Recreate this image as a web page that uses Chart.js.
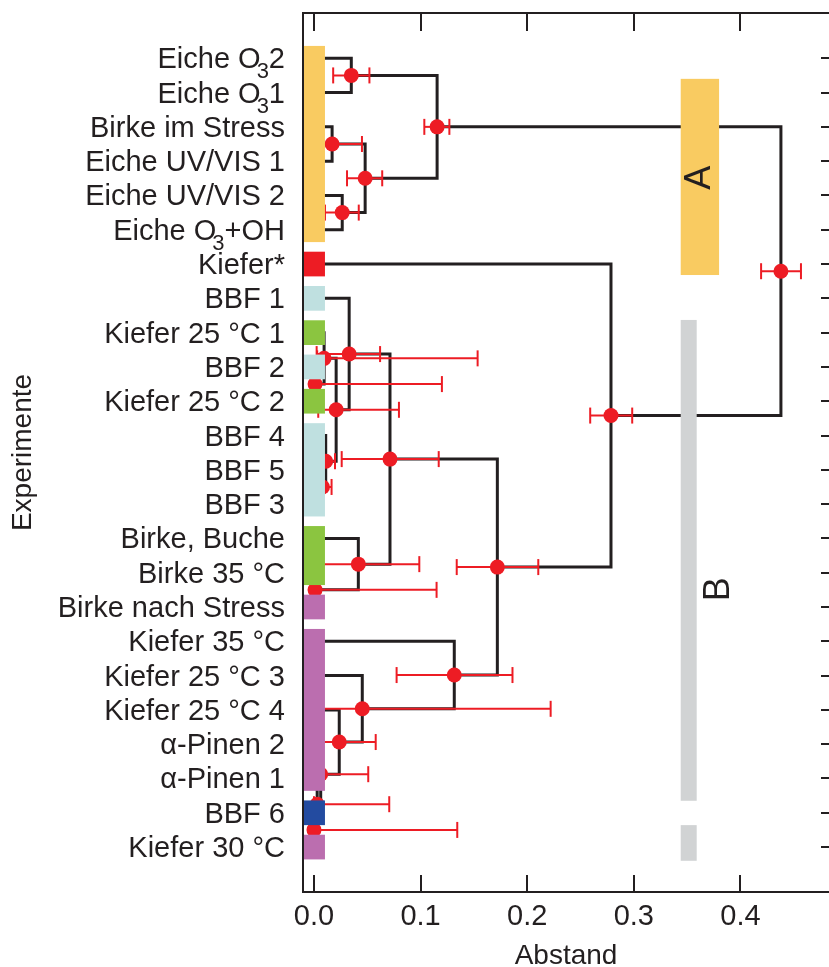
<!DOCTYPE html>
<html lang="de">
<head>
<meta charset="utf-8">
<title>Clusteranalyse der Experimente</title>
<script src="https://cdn.jsdelivr.net/npm/chart.js@4.4.1/dist/chart.umd.min.js"></script>
<style>
  html, body { margin: 0; padding: 0; background: #fff; overflow: hidden; }
  #chart { display: block; width: 829px; height: 967px; }
</style>
</head>
<body>
<canvas id="chart" width="829" height="967"></canvas>
<script>
// Experiments, top to bottom (row index = y value)
const rowLabels = [
  'Eiche O₃2', 'Eiche O₃1', 'Birke im Stress', 'Eiche UV/VIS 1', 'Eiche UV/VIS 2',
  'Eiche O₃+OH', 'Kiefer*', 'BBF 1', 'Kiefer 25 °C 1', 'BBF 2', 'Kiefer 25 °C 2',
  'BBF 4', 'BBF 5', 'BBF 3', 'Birke, Buche', 'Birke 35 °C', 'Birke nach Stress',
  'Kiefer 35 °C', 'Kiefer 25 °C 3', 'Kiefer 25 °C 4', 'α-Pinen 2', 'α-Pinen 1',
  'BBF 6', 'Kiefer 30 °C'
];

// Coloured blocks next to the labels: first row, last row, class
const blockFirst = [0, 6, 7, 8, 9, 10, 11, 14, 16, 17, 22, 23];
const blockLast  = [5, 6, 7, 8, 9, 10, 13, 15, 16, 21, 22, 23];
const blockClass = ['eiche', 'kieferStern', 'bbf', 'gruen', 'bbf', 'gruen', 'bbf', 'gruen', 'lila', 'lila', 'bbf6', 'lila'];

// Dendrogram: merge distance of each node, its two children (L = row, N = node) and error range
const nodeHeight  = [0.035, 0.017, 0.0265, 0.048, 0.1155, 0.001, 0.0095, 0.008, 0.011, 0.0208, 0.033, 0.001,
                     0.0416, 0.0713, 0.0, 0.003, 0.0063, 0.0237, 0.0453, 0.1316, 0.172, 0.2786, 0.438];
const nodeLeft    = ['L0', 'L2', 'L4', 'N1', 'N0', 'L9', 'L8', 'L12', 'L11', 'N6', 'L7', 'L15',
                     'L14', 'N10', 'L22', 'L21', 'L20', 'L19', 'L18', 'L17', 'N13', 'L6', 'N4'];
const nodeRight   = ['L1', 'L3', 'L5', 'N2', 'N3', 'L10', 'N5', 'L13', 'N7', 'N8', 'N9', 'L16',
                     'N11', 'N12', 'L23', 'N14', 'N15', 'N16', 'N17', 'N18', 'N19', 'N20', 'N21'];
const nodeErrLow  = [0.018, 0.005, 0.0103, 0.031, 0.1035, -0.003, 0.003, 0.003, 0.005, 0.004, 0.0025, -0.003,
                     0.005, 0.026, -0.004, 0.0, 0.002, 0.004, 0.004, 0.0775, 0.1339, 0.2591, 0.4194];
const nodeErrHigh = [0.052, 0.045, 0.042, 0.064, 0.127, 0.120, 0.1535, 0.0165, 0.0197, 0.0797, 0.062, 0.115,
                     0.0988, 0.117, 0.1344, 0.0706, 0.0509, 0.0579, 0.222, 0.1862, 0.2104, 0.2985, 0.4568];

// Cluster bands A and B on the right
const bandFrom  = [0.60, 7.63, 22.36];
const bandTo    = [6.32, 21.65, 23.40];
const bandLeft  = [0.344, 0.344, 0.344];
const bandRight = [0.380, 0.359, 0.359];
const bandClass = ['eiche', 'grau', 'grau'];
const bandNames    = ['A', 'B'];
const bandNameX    = [0.362, 0.380];
const bandNameRow  = [3.48, 15.48];

const xTicks = [0, 0.1, 0.2, 0.3, 0.4];

// ---- styles ----
const INK = '#231F20';
const RED = '#ED1C24';
const FAMILY = '"Liberation Sans", Arial, sans-serif';
const classColors = {
  eiche: '#F9CB61', kieferStern: '#ED1C24', bbf: '#BFE0E0', gruen: '#8BC540',
  lila: '#BB6EAF', bbf6: '#234BA0', grau: '#D1D3D4'
};
// the right border of the box lies just past the canvas edge
const X_MIN = -0.0103, X_MAX = 0.4831;
const Y_MIN = -1.32, Y_MAX = 24.31;
const BLOCK_RIGHT = 0.0103;
const BLOCK_HALF = 0.36;
const LABEL_GAP = 18;
const SUB = '₃';

Chart.defaults.font.family = FAMILY;
Chart.defaults.font.size = 29;
Chart.defaults.color = INK;

// Build link paths bottom-up; a node sits halfway between its children
const nodeY = [];
const links = [];
function childPos(ref) {
  const idx = +ref.slice(1);
  return ref[0] === 'L' ? { x: 0, y: idx } : { x: nodeHeight[idx], y: nodeY[idx] };
}
nodeHeight.forEach((h, i) => {
  const a = childPos(nodeLeft[i]);
  const b = childPos(nodeRight[i]);
  nodeY[i] = (a.y + b.y) / 2;
  links.push([{ x: a.x, y: a.y }, { x: h, y: a.y }, { x: h, y: b.y }, { x: b.x, y: b.y }]);
});

const datasets = [];
datasets.push({
  label: 'Knoten',
  data: nodeHeight.map((h, i) => ({ x: h, y: nodeY[i] })),
  pointRadius: 7.5,
  pointBackgroundColor: RED,
  pointBorderWidth: 0,
  order: 0
});
nodeHeight.forEach((h, i) => {
  datasets.push({
    label: 'Fehler ' + i,
    data: [{ x: nodeErrLow[i], y: nodeY[i] }, { x: nodeErrHigh[i], y: nodeY[i] }],
    showLine: true,
    borderColor: RED,
    borderWidth: 2,
    pointStyle: 'line',
    pointRotation: 90,
    pointRadius: 8,
    pointBorderColor: RED,
    pointBorderWidth: 2,
    order: 1
  });
});
links.forEach((pts, i) => {
  datasets.push({
    label: 'Ast ' + i,
    data: pts,
    showLine: true,
    borderColor: INK,
    borderWidth: 3,
    borderJoinStyle: 'miter',
    pointRadius: 0,
    order: 2
  });
});

// Colour blocks, cluster bands and their names, painted over the tree
const blockPlugin = {
  id: 'blocks',
  afterDatasetsDraw(chart) {
    const { ctx, scales: { x, y } } = chart;
    ctx.save();
    blockFirst.forEach((first, i) => {
      const top = y.getPixelForValue(first - BLOCK_HALF);
      const bottom = y.getPixelForValue(blockLast[i] + BLOCK_HALF);
      const left = x.getPixelForValue(X_MIN);
      const right = x.getPixelForValue(BLOCK_RIGHT);
      ctx.fillStyle = classColors[blockClass[i]];
      ctx.fillRect(left, top, right - left, bottom - top);
    });
    bandFrom.forEach((from, i) => {
      const top = y.getPixelForValue(from);
      const bottom = y.getPixelForValue(bandTo[i]);
      const left = x.getPixelForValue(bandLeft[i]);
      const right = x.getPixelForValue(bandRight[i]);
      ctx.fillStyle = classColors[bandClass[i]];
      ctx.fillRect(left, top, right - left, bottom - top);
    });
    ctx.fillStyle = INK;
    ctx.font = '36px ' + FAMILY;
    ctx.textAlign = 'center';
    ctx.textBaseline = 'middle';
    bandNames.forEach((name, i) => {
      ctx.save();
      ctx.translate(x.getPixelForValue(bandNameX[i]), y.getPixelForValue(bandNameRow[i]));
      ctx.rotate(-Math.PI / 2);
      ctx.fillText(name, 0, 0);
      ctx.restore();
    });
    ctx.restore();
  }
};

// Labels with the ozone subscript are set by hand: big, low-set "3"
const subLabelPlugin = {
  id: 'subLabels',
  afterDraw(chart) {
    const { ctx, chartArea: a, scales: { y } } = chart;
    const xr = a.left - LABEL_GAP;
    ctx.save();
    ctx.fillStyle = INK;
    ctx.textAlign = 'left';
    ctx.textBaseline = 'alphabetic';
    rowLabels.forEach((label, i) => {
      if (!label.includes(SUB)) return;
      const [head, tail] = label.split(SUB);
      const base = y.getPixelForValue(i) + 10;
      ctx.font = '29px ' + FAMILY;
      const wHead = ctx.measureText(head).width;
      const wTail = ctx.measureText(tail).width;
      ctx.font = '22px ' + FAMILY;
      const wSub = ctx.measureText('3').width;
      const xTail = xr - wTail;
      const xSub = xTail - wSub;
      const xHead = xSub + 4 - wHead;
      ctx.fillText('3', xSub, base + 10);
      ctx.font = '29px ' + FAMILY;
      ctx.fillText(head, xHead, base);
      ctx.fillText(tail, xTail, base);
    });
    ctx.restore();
  }
};

// Open box (top, left, bottom) with inward ticks; row ticks stub in from the right edge
const framePlugin = {
  id: 'frame',
  afterDraw(chart) {
    const { ctx, chartArea: a, scales: { x, y } } = chart;
    ctx.save();
    ctx.strokeStyle = INK;
    ctx.lineWidth = 2;
    ctx.beginPath();
    ctx.moveTo(a.right, a.top); ctx.lineTo(a.left, a.top);
    ctx.lineTo(a.left, a.bottom); ctx.lineTo(a.right, a.bottom);
    xTicks.forEach(v => {
      const px = Math.round(x.getPixelForValue(v));
      ctx.moveTo(px, a.top); ctx.lineTo(px, a.top + 18);
      ctx.moveTo(px, a.bottom); ctx.lineTo(px, a.bottom - 17);
    });
    rowLabels.forEach((_, i) => {
      const py = Math.round(y.getPixelForValue(i));
      ctx.moveTo(a.right, py); ctx.lineTo(a.right - 8, py);
    });
    ctx.stroke();
    ctx.restore();
  }
};

new Chart(document.getElementById('chart'), {
  type: 'scatter',
  data: { datasets },
  options: {
    responsive: false,
    animation: false,
    events: [],
    layout: { autoPadding: false, padding: { top: 13, right: 0, left: 0, bottom: 0 } },
    plugins: { legend: { display: false }, tooltip: { enabled: false } },
    scales: {
      x: {
        type: 'linear',
        position: 'bottom',
        min: X_MIN,
        max: X_MAX,
        grid: { display: false, drawTicks: false },
        border: { display: false },
        afterBuildTicks: s => { s.ticks = xTicks.map(v => ({ value: v })); },
        afterFit: s => { s.height = 75; s.paddingLeft = 0; s.paddingRight = 0; },
        ticks: { padding: 8, autoSkip: false, maxRotation: 0, color: INK, callback: v => v.toFixed(1) },
        title: { display: true, text: 'Abstand', color: INK, font: { size: 28, lineHeight: 0.75 }, padding: { top: 0, bottom: 0 } }
      },
      y: {
        type: 'linear',
        position: 'left',
        reverse: true,
        min: Y_MIN,
        max: Y_MAX,
        grid: { display: false, drawTicks: false },
        border: { display: false },
        afterBuildTicks: s => { s.ticks = rowLabels.map((_, i) => ({ value: i })); },
        afterFit: s => { s.width = 303; s.paddingTop = 0; s.paddingBottom = 0; },
        ticks: {
          padding: LABEL_GAP,
          labelOffset: 2,
          autoSkip: false,
          color: INK,
          callback: v => (rowLabels[v].includes(SUB) ? '' : rowLabels[v])
        },
        title: { display: true, text: 'Experimente', color: INK, font: { size: 28 }, padding: { top: 6, bottom: 0 } }
      }
    }
  },
  plugins: [blockPlugin, subLabelPlugin, framePlugin]
});
</script>
</body>
</html>
